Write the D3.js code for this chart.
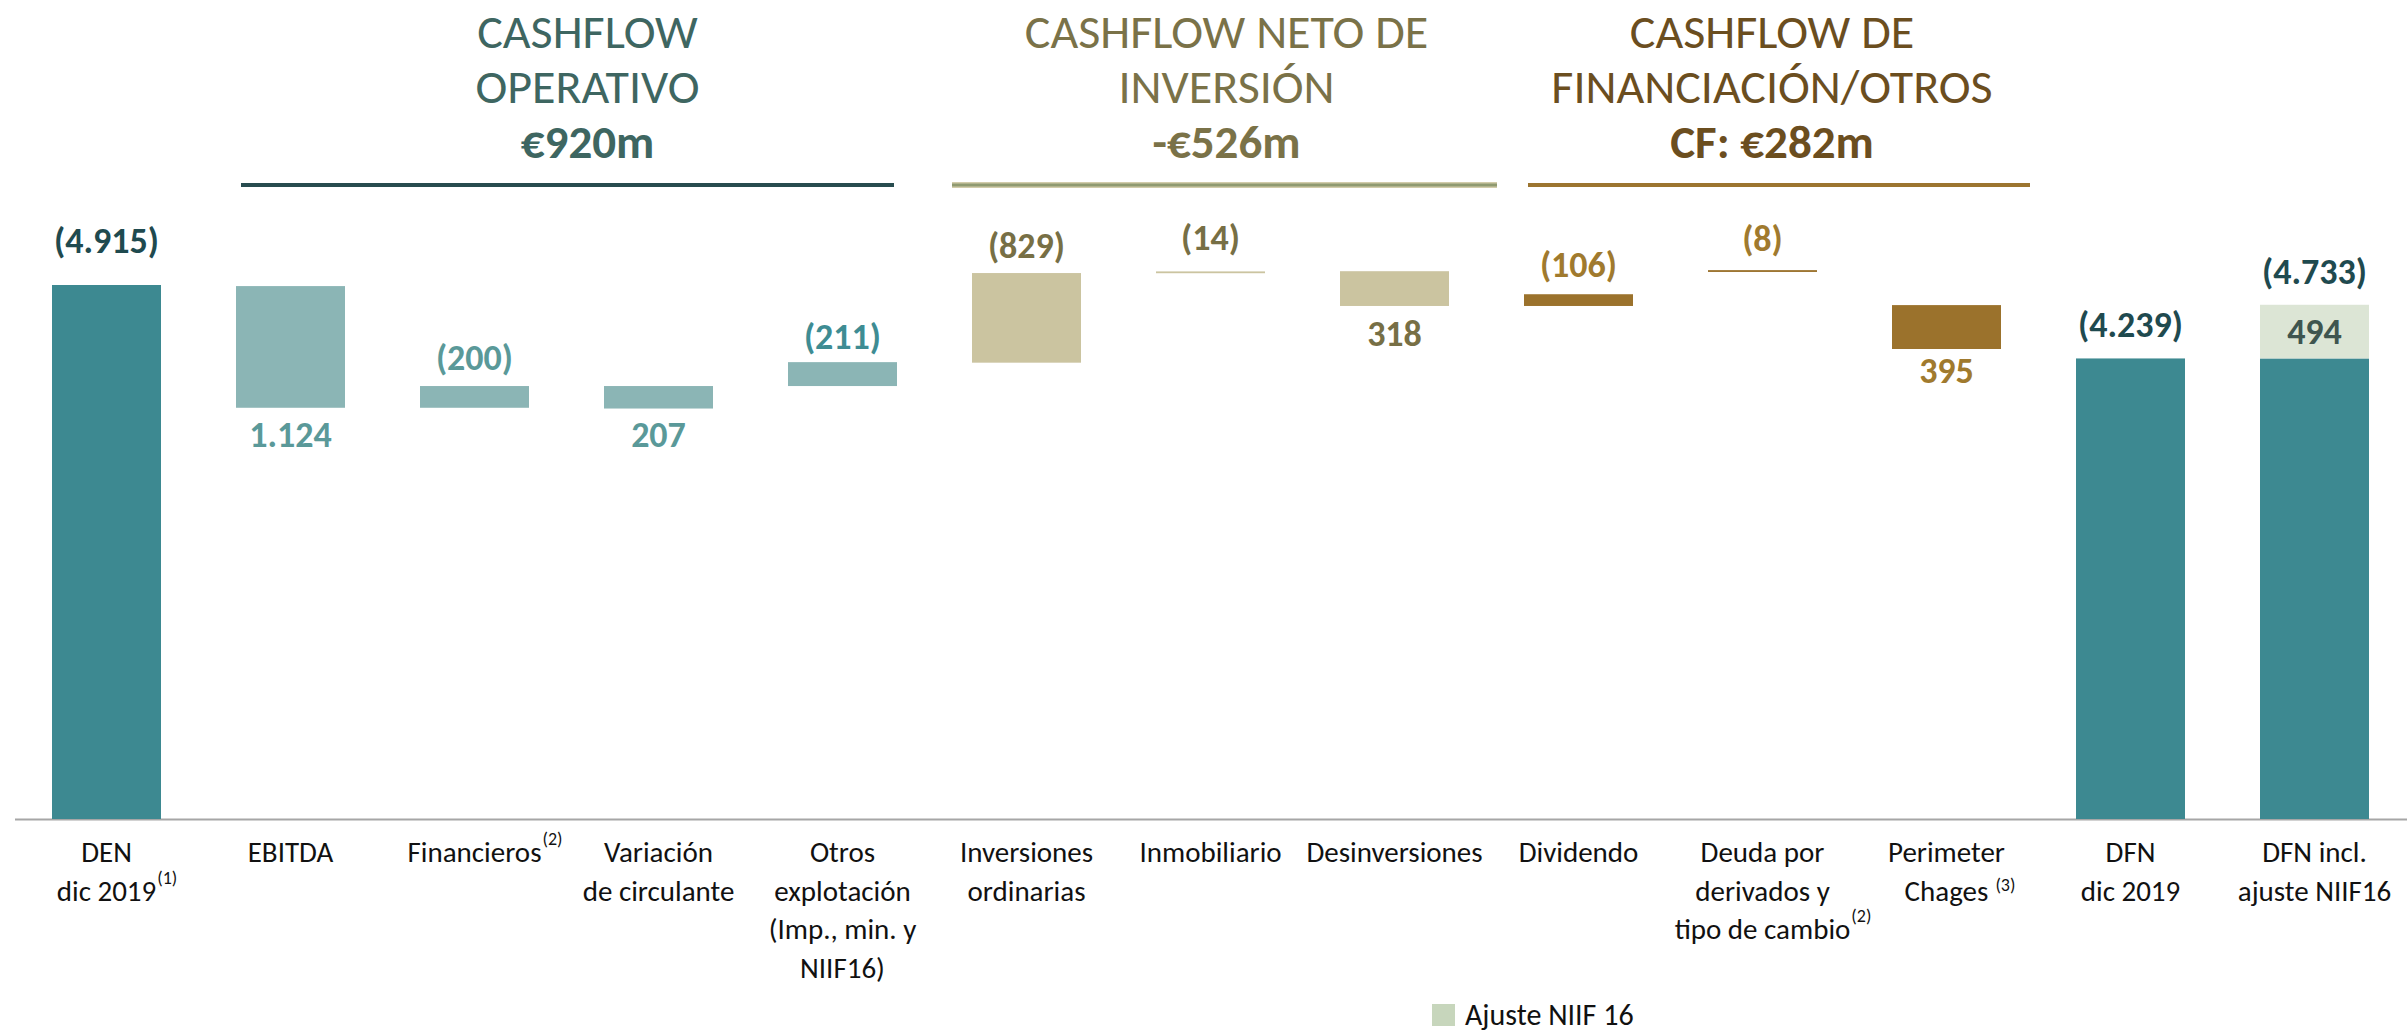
<!DOCTYPE html>
<html lang="es">
<head>
<meta charset="UTF-8">
<title>Cashflow DFN</title>
<script src="https://d3js.org/d3.v7.min.js"></script>
<style>
  body { margin: 0; background: #fff; }
  svg { display: block; font-family: Carlito, Calibri, Lato, sans-serif; }
</style>
</head>
<body>
<div class="canvas"></div>
<script>
  // datos (millones de euros)
  const categories = [
    ['DEN', 'dic 2019'], ['EBITDA'], ['Financieros'], ['Variación', 'de circulante'],
    ['Otros', 'explotación', '(Imp., min. y', 'NIIF16)'], ['Inversiones', 'ordinarias'],
    ['Inmobiliario'], ['Desinversiones'], ['Dividendo'],
    ['Deuda por', 'derivados y', 'tipo de cambio'], ['Perimeter', 'Chages'],
    ['DFN', 'dic 2019'], ['DFN incl.', 'ajuste NIIF16']
  ]
  const footnotes = ['(1)', '', '(2)', '', '', '', '', '', '', '(2)', '(3)', '', '']
  const valueLabels = ['(4.915)', '1.124', '(200)', '207', '(211)', '(829)', '(14)', '318', '(106)', '(8)', '395', '(4.239)', '(4.733)']
  // inicio y fin de cada barra tal como aparecen en el gráfico
  const barFrom = [0, 4905, 3785, 3985, 3985, 4200, 5025, 5042, 4722, 5035, 4730, 0, 0]
  const barTo   = [4915, 3785, 3985, 3778, 4205, 5025, 5040, 4722, 4830, 5052, 4326, 4239, 4239]
  const barKind = ['total', 'op', 'op', 'op', 'op', 'inv', 'inv', 'inv', 'fin', 'fin', 'fin', 'total', 'total']
  const labelSide = ['top', 'bottom', 'top', 'bottom', 'top', 'top', 'top', 'bottom', 'top', 'top', 'bottom', 'top', 'top']
  const niifAdjust = 494
  const niifLabel = '494'
  const legendLabel = 'Ajuste NIIF 16'

  const groupTitles = [['CASHFLOW', 'OPERATIVO'], ['CASHFLOW NETO DE', 'INVERSIÓN'], ['CASHFLOW DE', 'FINANCIACIÓN/OTROS']]
  const groupTotals = ['€920m', '-€526m', 'CF: €282m']
  const groupFirst = [1, 5, 8]
  const groupLast = [4, 7, 10]

  // estilos / ajustes de posición
  const fill = { total: '#3D8991', op: '#8BB5B5', inv: '#CBC4A0', fin: '#9B722C' }
  const labelFill = { total: '#1F4A4F', op: '#5A9999', inv: '#776F45', fin: '#A07A2E' }
  const groupColor = ['#3E6661', '#7A7248', '#6B4E1F']
  const groupLine = ['#284C4F', '#8F9A70', '#9C7530']
  const groupLineExt = [[5, -3], [-20, 48], [4, 29]]
  const groupTextShift = [20, 2, -7]
  const labelGap = [32, 39, 16, 38, 13, 15, 21, 40, 17, 19, 34, 21, 21]

  const W = 2407, H = 1035
  const svg = d3.select('.canvas')
    .append('svg')
    .attr('width', W)
    .attr('height', H)
  svg.append('rect').attr('width', W).attr('height', H).attr('fill', '#fff')

  const idx = d3.range(categories.length)
  const x = d3.scaleBand()
    .domain(idx)
    .range([14.5, 2406.5])
    .paddingInner(0.4076)
    .paddingOuter(0.2038)
  const y = d3.scaleLinear()
    .domain([0, 4915])
    .range([819, 285])

  // eje
  const axis = svg.append('g')
    .attr('transform', 'translate(0, 819)')
    .call(d3.axisBottom(x).tickSize(0).tickSizeOuter(0).tickFormat(''))
  axis.select('.domain').attr('stroke', '#A6A6A6').attr('stroke-width', 2)

  // barras
  const bars = svg.append('g')
  bars.selectAll('rect')
    .data(idx)
    .enter()
    .append('rect')
    .attr('x', i => x(i))
    .attr('width', x.bandwidth())
    .attr('y', i => y(Math.max(barFrom[i], barTo[i])))
    .attr('height', i => Math.max(1.8, Math.abs(y(barFrom[i]) - y(barTo[i]))))
    .attr('fill', i => fill[barKind[i]])

  // ajuste NIIF 16 sobre la última barra
  const last = categories.length - 1
  bars.append('rect')
    .attr('x', x(last))
    .attr('width', x.bandwidth())
    .attr('y', y(barTo[last] + niifAdjust))
    .attr('height', y(barTo[last]) - y(barTo[last] + niifAdjust))
    .attr('fill', '#DCE5D5')
  svg.append('text')
    .attr('x', x(last) + x.bandwidth() / 2)
    .attr('y', (y(barTo[last]) + y(barTo[last] + niifAdjust)) / 2 + 12)
    .attr('text-anchor', 'middle')
    .attr('font-size', 36)
    .attr('font-weight', 'bold')
    .attr('fill', '#3F554F')
    .text(niifLabel)

  // etiquetas de valor
  svg.append('g').selectAll('text')
    .data(idx)
    .enter()
    .append('text')
    .attr('x', i => x(i) + x.bandwidth() / 2)
    .attr('y', i => {
      let top = Math.max(barFrom[i], barTo[i])
      if (i === last) top += niifAdjust
      const bottom = Math.min(barFrom[i], barTo[i])
      return labelSide[i] === 'top' ? y(top) - labelGap[i] : y(bottom) + labelGap[i]
    })
    .attr('text-anchor', 'middle')
    .attr('font-size', 36)
    .attr('font-weight', 'bold')
    .attr('fill', i => i === 4 ? '#3E8C93' : labelFill[barKind[i]])
    .text(i => valueLabels[i])

  // categorías
  const cat = svg.append('g')
  idx.forEach(i => {
    const cx = x(i) + x.bandwidth() / 2
    categories[i].forEach((line, k) => {
      const t = cat.append('text')
        .attr('x', cx)
        .attr('y', 862 + k * 38.5)
        .attr('text-anchor', 'middle')
        .attr('font-size', 29)
        .attr('fill', '#111')
        .text(line)
      if (footnotes[i] && k === categories[i].length - 1) {
        const w = t.node().getComputedTextLength()
        cat.append('text')
          .attr('x', cx + w / 2 + (i === 10 ? 7 : 1))
          .attr('y', 862 + k * 38.5 - (i === 10 ? 10 : 17))
          .attr('font-size', 18)
          .attr('fill', '#111')
          .text(footnotes[i])
      }
    })
  })

  // cabeceras de grupo
  const head = svg.append('g')
  groupTitles.forEach((lines, g) => {
    const x0 = x(groupFirst[g]) + groupLineExt[g][0]
    const x1 = x(groupLast[g]) + x.bandwidth() + groupLineExt[g][1]
    const cx = (x0 + x1) / 2 + groupTextShift[g]
    lines.forEach((line, k) => {
      head.append('text')
        .attr('x', cx)
        .attr('y', 48 + k * 55)
        .attr('text-anchor', 'middle')
        .attr('font-size', 48)
        .attr('fill', groupColor[g])
        .text(line)
    })
    head.append('text')
      .attr('x', cx)
      .attr('y', 158)
      .attr('text-anchor', 'middle')
      .attr('font-size', 47)
      .attr('font-weight', 'bold')
      .attr('fill', groupColor[g])
      .text(groupTotals[g])
    if (g === 1) {
      head.append('line')
        .attr('x1', x0).attr('x2', x1).attr('y1', 185).attr('y2', 185)
        .attr('stroke', '#D2CCAA').attr('stroke-width', 6)
    }
    head.append('line')
      .attr('x1', x0).attr('x2', x1).attr('y1', 185).attr('y2', 185)
      .attr('stroke', groupLine[g]).attr('stroke-width', g === 1 ? 3 : 4)
  })

  // leyenda
  const leg = svg.append('g').attr('transform', 'translate(1432, 1004)')
  leg.append('rect').attr('width', 23).attr('height', 22).attr('fill', '#C7D6BC')
  leg.append('text')
    .attr('x', 33).attr('y', 21)
    .attr('font-size', 30)
    .attr('fill', '#111')
    .text(legendLabel)
</script>
</body>
</html>
